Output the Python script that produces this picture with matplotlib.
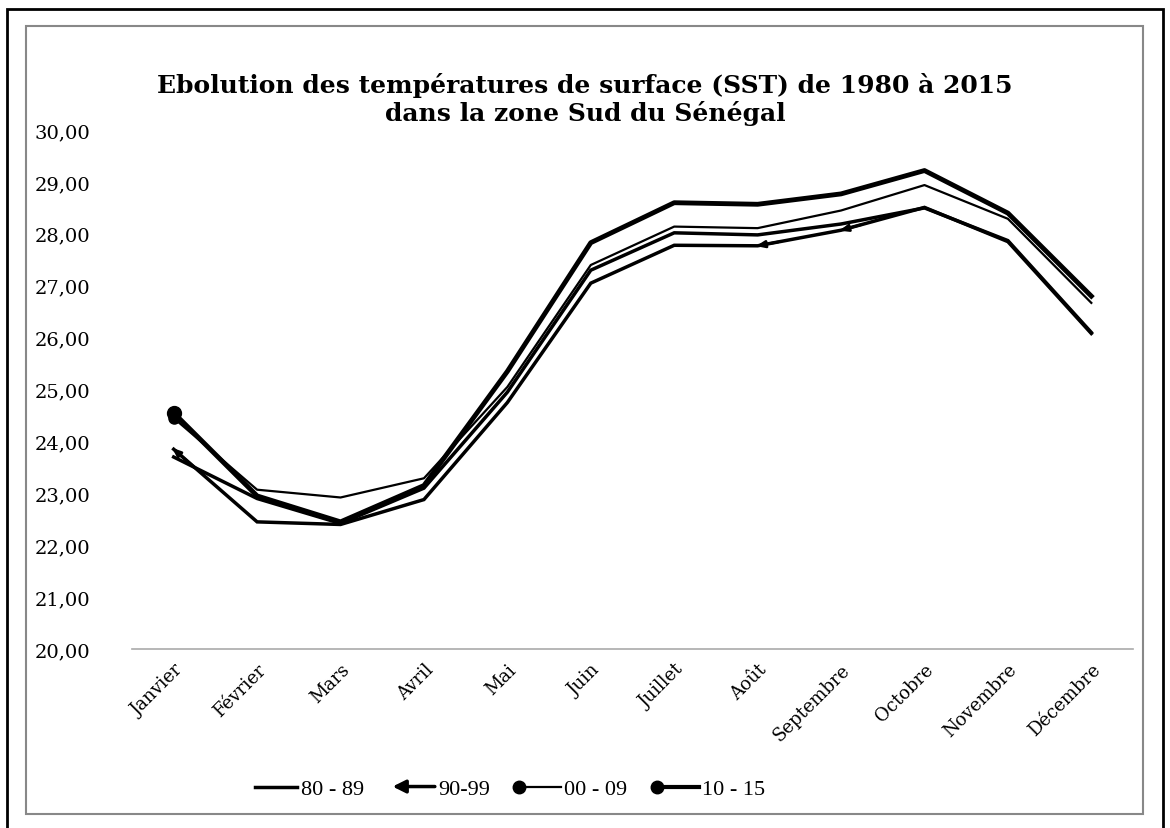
import numpy as np
import matplotlib
matplotlib.use('Agg')
import matplotlib.pyplot as plt
from matplotlib.lines import Line2D
from matplotlib.patches import Rectangle, FancyArrowPatch
from matplotlib.legend_handler import HandlerBase
from matplotlib.ticker import FuncFormatter

# months and mean SST per decade
months = ['Janvier', 'Février', 'Mars', 'Avril', 'Mai', 'Juin', 'Juillet',
          'Août', 'Septembre', 'Octobre', 'Novembre', 'Décembre']
sst_80_89 = [23.70, 22.90, 22.42, 23.10, 24.95, 27.30, 28.02, 27.98, 28.19, 28.50, 27.87, 26.10]
sst_90_99 = [23.85, 22.45, 22.40, 22.88, 24.75, 27.05, 27.78, 27.77, 28.07, 28.51, 27.85, 26.08]
sst_00_09 = [24.45, 23.07, 22.92, 23.29, 25.05, 27.40, 28.14, 28.11, 28.45, 28.94, 28.29, 26.67]
sst_10_15 = [24.55, 22.95, 22.45, 23.15, 25.35, 27.83, 28.60, 28.57, 28.77, 29.22, 28.40, 26.80]
labels = ['80 - 89', '90-99', '00 - 09', '10 - 15']

plt.rcParams['font.family'] = ['DejaVu Serif']

fig = plt.figure(figsize=(11.7, 8.29), dpi=100)
# outer frame + chart area frame
fig.patches.append(Rectangle((0.006, -0.01), 0.988, 0.998, transform=fig.transFigure,
                             fill=False, edgecolor='black', lw=2))
fig.patches.append(Rectangle((0.022, 0.017), 0.955, 0.95, transform=fig.transFigure,
                             fill=False, edgecolor='#888888', lw=1.5))

ax = fig.add_axes([0.1128, 0.2159, 0.8556, 0.626])
x = np.arange(len(months))

ax.plot(x, sst_80_89, color='black', lw=2.5, solid_joinstyle='miter')
ax.plot(x, sst_90_99, color='black', lw=2.5, solid_joinstyle='miter')
ax.plot(x, sst_00_09, color='black', lw=1.6, marker='o', markevery=[0], ms=8)
ax.plot(x, sst_10_15, color='black', lw=3.5, marker='o', markevery=[0], ms=10)

# arrow heads on the 90-99 series
for i in [0, 7, 8]:
    x0, y0 = x[i], sst_90_99[i]
    x1, y1 = x[i + 1], sst_90_99[i + 1]
    ax.annotate('', xy=(x0 - 0.02 * (x1 - x0), y0 - 0.02 * (y1 - y0)),
                xytext=(x0 + 0.25 * (x1 - x0), y0 + 0.25 * (y1 - y0)),
                arrowprops=dict(arrowstyle='-|>,head_length=0.5,head_width=0.2',
                                color='black', lw=2.0, shrinkA=0, shrinkB=0))

ax.set_xlim(-0.5, 11.5)
ax.set_ylim(20, 30)
ax.set_yticks(np.arange(20, 31, 1))
ax.yaxis.set_major_formatter(FuncFormatter(lambda v, p: f'{v:.2f}'.replace('.', ',')))
ax.set_xticks(x)
ax.set_xticklabels(months, rotation=45, ha='right', rotation_mode='anchor')
ax.tick_params(axis='both', length=0)
ax.tick_params(axis='y', labelsize=14, pad=30)
ax.tick_params(axis='x', labelsize=13, pad=8)
for s in ['top', 'right', 'left']:
    ax.spines[s].set_visible(False)
ax.spines['bottom'].set_color('#aaaaaa')
ax.spines['bottom'].set_linewidth(1.2)

fig.text(0.5, 0.88, 'Ebolution des températures de surface (SST) de 1980 à 2015\n'
         'dans la zone Sud du Sénégal', ha='center', va='center',
         fontsize=18, fontweight='bold', linespacing=1.15)


class LegendHandle(HandlerBase):
    def create_artists(self, legend, orig, xd, yd, width, height, fontsize, trans):
        kind, lw = orig
        ym = yd + height / 2
        if kind == 'arrow':
            a = FancyArrowPatch((xd + width, ym), (xd, ym),
                                arrowstyle='-|>,head_length=0.6,head_width=0.3',
                                mutation_scale=fontsize * 0.8, lw=lw, color='black',
                                shrinkA=0, shrinkB=0, transform=trans)
            return [a]
        line = Line2D([xd, xd + width], [ym, ym], color='black', lw=lw, transform=trans)
        out = [line]
        if kind == 'dot':
            out.append(Line2D([xd], [ym], marker='o', ms=9, color='black', transform=trans))
        return out


handles = [('plain', 2.5), ('arrow', 2.5), ('dot', 1.6), ('dot', 3.0)]
fig.legend(handles, labels, handler_map={tuple: LegendHandle()},
           loc='center', bbox_to_anchor=(0.436, 0.047), ncol=4, frameon=False,
           prop={'family': 'Liberation Serif', 'size': 16}, handlelength=1.9,
           handletextpad=0.15, columnspacing=1.3)

fig.savefig('out.png', dpi=100)
